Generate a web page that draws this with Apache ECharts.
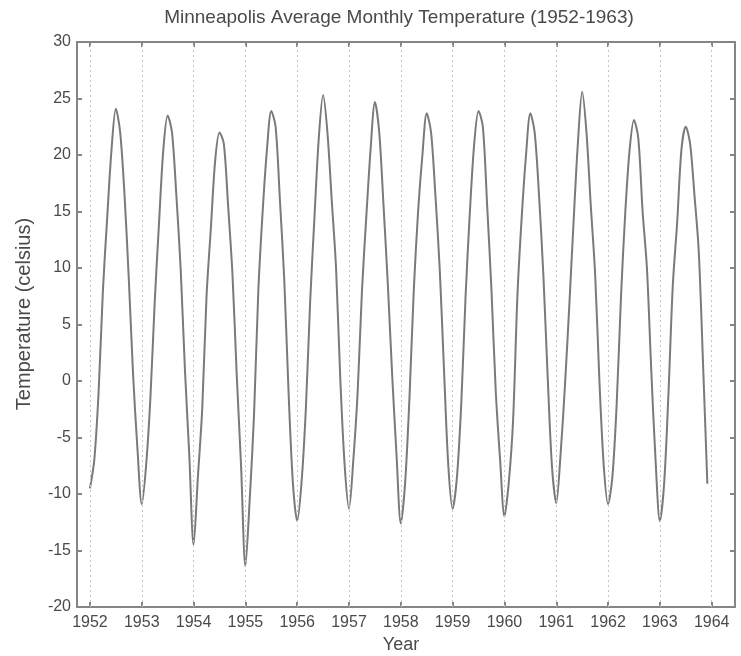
<!DOCTYPE html>
<html>
<head>
<meta charset="utf-8">
<script src="https://cdn.jsdelivr.net/npm/echarts@6/dist/echarts.min.js"></script>
<style>html,body{margin:0;padding:0;background:#fff;}#chart{width:741px;height:656px;}</style>
</head>
<body>
<div id="chart"></div>
<script>
// Monthly average temperatures (Jan..Dec), degrees Celsius
const t1952 = [-9.5, -7.0, -1.0, 8.0, 14.5, 20.5, 24.1, 22.0, 16.5, 9.0, 0.5, -6.0];
const t1953 = [-10.9, -7.5, -1.5, 7.0, 14.0, 20.5, 23.5, 22.0, 16.5, 10.0, 1.0, -6.5];
const t1954 = [-14.5, -8.5, -2.5, 7.5, 13.5, 19.5, 22.0, 21.0, 15.5, 9.5, 0.5, -7.5];
const t1955 = [-16.4, -10.5, -3.0, 8.0, 15.0, 20.5, 23.9, 22.5, 16.0, 9.0, -1.0, -9.0];
const t1956 = [-12.4, -9.0, -2.5, 7.0, 14.5, 21.5, 25.3, 22.0, 16.0, 10.0, 0.0, -7.5];
const t1957 = [-11.3, -7.0, -1.0, 8.0, 14.5, 20.5, 24.7, 22.0, 15.5, 8.5, 0.5, -6.5];
const t1958 = [-12.6, -9.0, -1.5, 8.0, 15.0, 20.0, 23.7, 22.0, 16.5, 10.0, 1.0, -7.5];
const t1959 = [-11.3, -8.5, -2.0, 7.5, 15.0, 21.0, 23.9, 22.5, 15.5, 8.0, -1.0, -7.0];
const t1960 = [-12.0, -9.0, -3.5, 7.5, 14.5, 20.0, 23.7, 22.0, 16.5, 9.5, 0.5, -7.5];
const t1961 = [-10.8, -6.5, -0.5, 6.5, 14.0, 21.0, 25.6, 22.0, 15.5, 9.5, 0.0, -7.5];
const t1962 = [-10.9, -8.5, -2.0, 7.5, 15.0, 20.5, 23.1, 21.5, 15.0, 10.0, 1.0, -7.0];
const t1963 = [-12.4, -9.0, -1.0, 8.5, 14.0, 20.5, 22.5, 21.0, 16.5, 11.5, 1.5, -9.1];

const years = [1952, 1953, 1954, 1955, 1956, 1957, 1958, 1959, 1960, 1961, 1962, 1963];
const yearlyTemps = [t1952, t1953, t1954, t1955, t1956, t1957, t1958, t1959, t1960, t1961, t1962, t1963];
const xTickLabels = [1952, 1953, 1954, 1955, 1956, 1957, 1958, 1959, 1960, 1961, 1962, 1963, 1964];
const yTickLabels = [-20, -15, -10, -5, 0, 5, 10, 15, 20, 25, 30];

const titleText = 'Minneapolis Average Monthly Temperature (1952-1963)';
const xName = 'Year';
const yName = 'Temperature (celsius)';

const seriesData = [];
years.forEach((y, i) => {
  yearlyTemps[i].forEach((v, m) => seriesData.push([y + m / 12, v]));
});

const FONT = 'Liberation Sans';
const axisColor = '#858585';
const textColor = '#4a4a4a';

const chart = echarts.init(document.getElementById('chart'), null, {renderer: 'canvas'});
chart.setOption({
  animation: false,
  backgroundColor: '#fff',
  graphic: [{
    type: 'text', x: 399, y: 18,
    style: {text: titleText, font: '19px "' + FONT + '"', fill: textColor, textAlign: 'center', textVerticalAlign: 'middle'}
  }, {
    type: 'text', x: 24, y: 314, rotation: Math.PI / 2,
    style: {text: yName, font: '20px "' + FONT + '"', fill: textColor, textAlign: 'center', textVerticalAlign: 'middle'}
  }, {
    type: 'text', x: 401, y: 645,
    style: {text: xName, font: '18px "' + FONT + '"', fill: textColor, textAlign: 'center', textVerticalAlign: 'middle'}
  }],
  grid: {left: 77, right: 6, top: 42, bottom: 49, containLabel: false},
  xAxis: [{
    type: 'value', position: 'bottom', min: 1951.75, max: 1964.45,
    axisLine: {show: true, onZero: false, lineStyle: {color: axisColor, width: 2}},
    axisTick: {show: true, inside: true, length: 5, customValues: xTickLabels, lineStyle: {color: axisColor, width: 2}},
    axisLabel: {show: true, customValues: xTickLabels, margin: 8, fontFamily: FONT, fontSize: 16, color: textColor, formatter: v => String(Math.round(v))},
    splitLine: {show: false}
  }, {
    type: 'value', position: 'top', min: 1951.75, max: 1964.45,
    axisLine: {show: true, onZero: false, lineStyle: {color: axisColor, width: 2}},
    axisTick: {show: true, inside: true, length: 5, customValues: xTickLabels, lineStyle: {color: axisColor, width: 2}},
    axisLabel: {show: false},
    splitLine: {show: false}
  }],
  yAxis: [{
    type: 'value', position: 'left', min: yTickLabels[0], max: yTickLabels[yTickLabels.length - 1], interval: 5,
    axisLine: {show: true, onZero: false, lineStyle: {color: axisColor, width: 2}},
    axisTick: {show: true, inside: true, length: 5, lineStyle: {color: axisColor, width: 2}},
    axisLabel: {show: true, margin: 6, fontFamily: FONT, fontSize: 16, color: textColor},
    splitLine: {show: false}
  }, {
    type: 'value', position: 'right', min: yTickLabels[0], max: yTickLabels[yTickLabels.length - 1], interval: 5,
    axisLine: {show: true, onZero: false, lineStyle: {color: axisColor, width: 2}},
    axisTick: {show: true, inside: true, length: 5, lineStyle: {color: axisColor, width: 2}},
    axisLabel: {show: false},
    splitLine: {show: false}
  }],
  series: [{
    type: 'line', xAxisIndex: 0, yAxisIndex: 0,
    data: seriesData, showSymbol: false, smooth: 0.3,
    lineStyle: {color: '#7a7a7a', width: 2},
    markLine: {
      silent: true, symbol: 'none', label: {show: false},
      lineStyle: {color: '#c4c4c4', width: 1, type: [2, 3]},
      data: xTickLabels.map(y => ({xAxis: y}))
    }
  }]
});
</script>
</body>
</html>
